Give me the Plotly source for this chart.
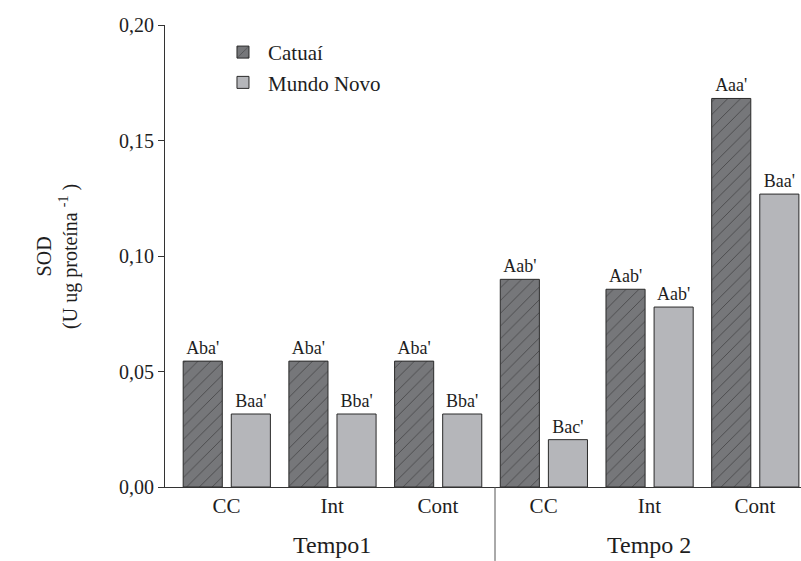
import plotly.graph_objects as go

categories = ["CC", "Int", "Cont", "CC", "Int", "Cont"]
periods = ["Tempo1", "Tempo 2"]
catuai = [0.0545, 0.0545, 0.0545, 0.0899, 0.0856, 0.1682]
mundo_novo = [0.0316, 0.0316, 0.0316, 0.0205, 0.0779, 0.1268]
catuai_labels = ["Aba'", "Aba'", "Aba'", "Aab'", "Aab'", "Aaa'"]
mundo_novo_labels = ["Baa'", "Bba'", "Bba'", "Bac'", "Aab'", "Baa'"]
y_ticks = [0.0, 0.05, 0.10, 0.15, 0.20]

xpos = list(range(len(categories)))
FONT = "Liberation Serif"
TXT = "#1e1e1e"

fig = go.Figure()
fig.add_trace(go.Bar(
    name="Catuaí", x=xpos, y=catuai, width=0.37, offset=-0.41,
    marker=dict(color="#76777a", line=dict(color="#2a2a2a", width=1),
                pattern=dict(shape="/", fgcolor="#1a1a1a", bgcolor="#76777a",
                             size=9, solidity=0.1)),
    text=catuai_labels, textposition="outside", cliponaxis=False,
    textfont=dict(family=FONT, size=18, color=TXT),
))
fig.add_trace(go.Bar(
    name="Mundo Novo", x=xpos, y=mundo_novo, width=0.37, offset=0.045,
    marker=dict(color="#b5b6ba", line=dict(color="#2a2a2a", width=1)),
    text=mundo_novo_labels, textposition="outside", cliponaxis=False,
    textfont=dict(family=FONT, size=18, color=TXT),
))

fig.update_layout(
    width=801, height=561,
    margin=dict(l=165, r=0, t=25, b=74),
    paper_bgcolor="white", plot_bgcolor="white",
    barmode="overlay",
    separators=", ",
    font=dict(family=FONT, color=TXT, size=20),
    showlegend=True,
    legend=dict(x=0.0833, y=0.985, xanchor="left", yanchor="top",
                bgcolor="rgba(0,0,0,0)", font=dict(family=FONT, size=21, color=TXT),
                itemwidth=40),
    xaxis=dict(range=[-0.582, 5.435], tickvals=xpos, ticktext=categories,
               showline=True, linecolor="#333", linewidth=1, ticks="",
               showgrid=False, zeroline=False,
               tickfont=dict(family=FONT, size=21, color=TXT)),
    yaxis=dict(range=[0, 0.2], tickvals=y_ticks, tickformat=".2f",
               showline=True, linecolor="#333", linewidth=1,
               ticks="outside", ticklen=6, tickcolor="#333",
               showgrid=False, zeroline=False,
               tickfont=dict(family=FONT, size=20, color=TXT)),
)

# separator between the two periods
fig.add_shape(type="line", xref="x", yref="paper", x0=2.54, x1=2.54, y0=0, y1=-0.16,
              line=dict(color="#555", width=1))

# period labels
for name, cx in zip(periods, [1, 4]):
    fig.add_annotation(x=cx, y=-0.126, xref="x", yref="paper", text=name,
                       showarrow=False, yanchor="middle",
                       font=dict(family=FONT, size=24, color=TXT))

# y axis title
fig.add_annotation(x=-0.17, y=0.5, xref="paper", yref="paper",
                   text="SOD<br>(U ug proteína <sup>-1</sup> )", textangle=-90,
                   showarrow=False, xanchor="center", yanchor="middle",
                   font=dict(family=FONT, size=20, color=TXT))

fig.write_html("out.html", config={"displayModeBar": False},
               post_script="document.body.style.margin='0';document.body.style.padding='0';")
